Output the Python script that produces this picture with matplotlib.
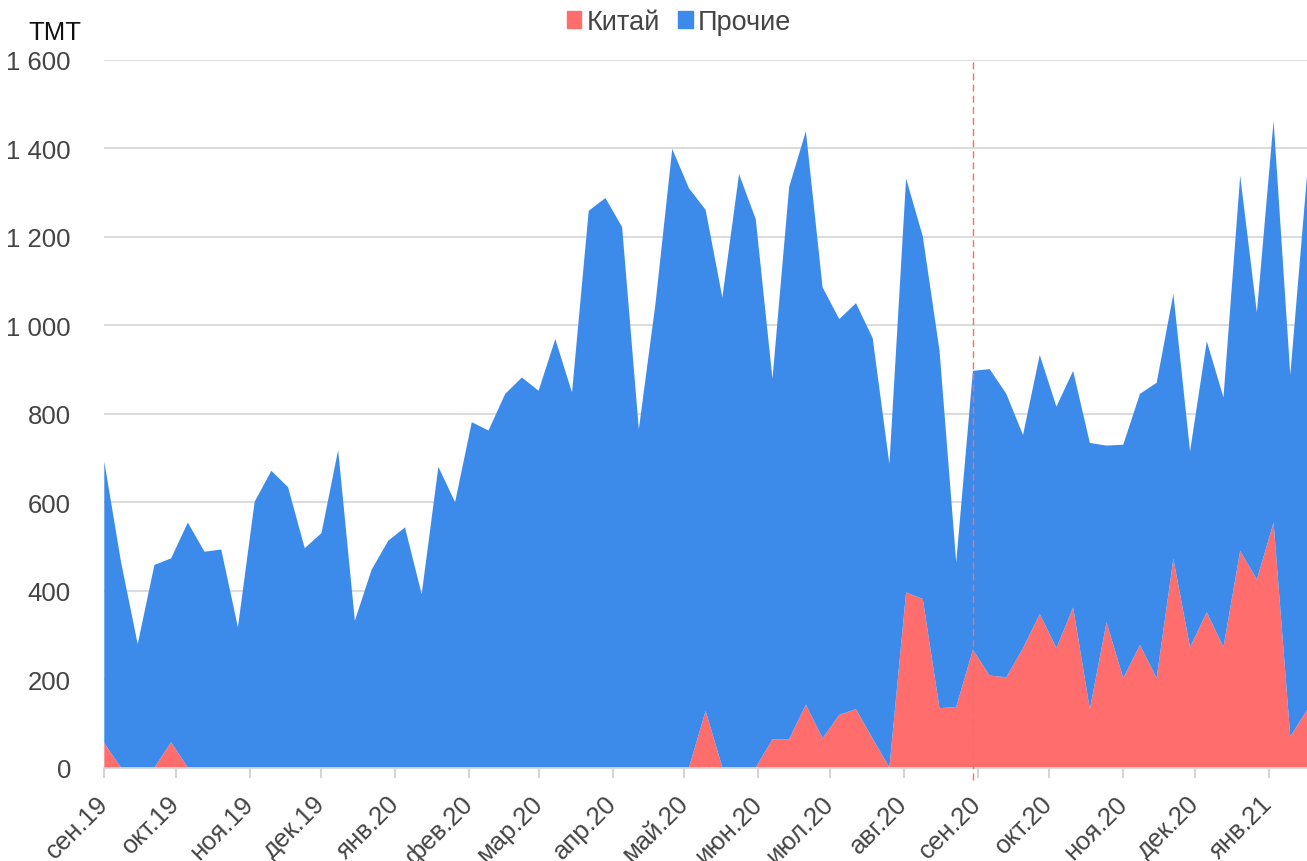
import numpy as np
import pandas as pd
import matplotlib
matplotlib.use("Agg")
import matplotlib.pyplot as plt
from matplotlib.patches import Patch

# weekly observations, ТМТ
weeks = pd.date_range("2019-09-01", periods=73, freq="7D")

china = [55, 0, 0, 0, 57, 0, 0, 0, 0, 0,
         0, 0, 0, 0, 0, 0, 0, 0, 0, 0,
         0, 0, 0, 0, 0, 0, 0, 0, 0, 0,
         0, 0, 0, 0, 0, 0, 128, 0, 0, 0,
         64, 64, 142, 66, 119, 132, 65, 0, 396, 381,
         134, 137, 266, 208, 204, 270, 347, 270, 362, 132,
         328, 202, 277, 202, 472, 272, 351, 272, 490, 425,
         554, 70, 130]

other = [637, 465, 279, 458, 416, 554, 488, 493, 317, 601,
         671, 634, 496, 530, 718, 332, 447, 513, 543, 392,
         680, 600, 781, 762, 845, 882, 852, 969, 848, 1259,
         1288, 1222, 765, 1050, 1399, 1310, 1133, 1063, 1342, 1240,
         815, 1249, 1297, 1020, 895, 918, 906, 686, 936, 820,
         809, 327, 631, 693, 641, 482, 586, 546, 535, 602,
         400, 528, 568, 668, 599, 443, 613, 565, 848, 604,
         909, 818, 1208]

month_labels = ["сен.19", "окт.19", "ноя.19", "дек.19", "янв.20", "фев.20",
                "мар.20", "апр.20", "май.20", "июн.20", "июл.20", "авг.20",
                "сен.20", "окт.20", "ноя.20", "дек.20", "янв.21"]
month_ticks = pd.date_range("2019-09-01", periods=len(month_labels), freq="MS")
marker_week = pd.Timestamp("2020-08-30")

c_china = "#ff6d6d"
c_other = "#3c8bea"
grey = "#444444"

plt.rcParams["font.family"] = ["Liberation Sans", "DejaVu Sans"]

fig = plt.figure(figsize=(13.07, 8.62), dpi=100)
ax = fig.add_axes([104.3 / 1307, 93.5 / 862, 1 - 104.3 / 1307, 707.5 / 862])

ax.stackplot(weeks, china, other, colors=[c_china, c_other], linewidth=0)

ax.set_ylim(0, 1600)
ax.set_xlim(weeks[0], weeks[-1])
ax.set_yticks(range(0, 1601, 200))
ax.set_yticklabels([f"{v:,}".replace(",", " ") for v in range(0, 1601, 200)])
ax.yaxis.grid(True, color="#d9d9d9", linewidth=1.3)
ax.set_axisbelow(True)
ax.tick_params(axis="y", length=0, pad=24, labelsize=18.5, labelcolor=grey)

ax.set_xticks(month_ticks)
ax.set_xticklabels(month_labels, rotation=45, ha="right", va="center",
                   rotation_mode="anchor")
ax.tick_params(axis="x", length=7, width=1.5, color="#d5d5d5", pad=16,
               labelsize=18.5, labelcolor=grey)

for s in ["top", "right", "left"]:
    ax.spines[s].set_visible(False)
ax.spines["bottom"].set_color("#d5d5d5")
ax.spines["bottom"].set_linewidth(1.3)
ax.spines["bottom"].set_zorder(3)

ax.axvline(marker_week, ymin=-0.017, ymax=1, color="#f07070", lw=1,
           ls=(0, (5, 3)), clip_on=False, zorder=4)

fig.text(81 / 1307, 1 - 33 / 862, "ТМТ", ha="right", va="center",
         fontsize=18.5, color="#111111")

handles = [Patch(color=c_china, label="Китай"), Patch(color=c_other, label="Прочие")]
fig.legend(handles=handles, loc="center", bbox_to_anchor=(679 / 1307, 1 - 23 / 862),
           ncol=2, frameon=False, fontsize=19.5, handlelength=0.55,
           handleheight=0.55, handletextpad=0.2, columnspacing=0.65,
           labelcolor=grey)

fig.savefig("out.png", dpi=100)
